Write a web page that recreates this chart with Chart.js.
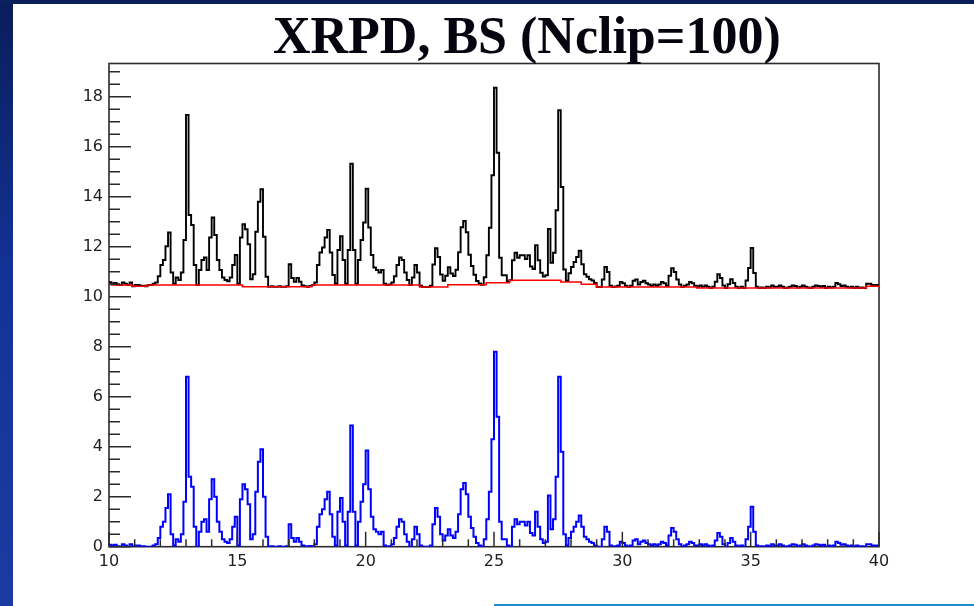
<!DOCTYPE html>
<html>
<head>
<meta charset="utf-8">
<script src="https://cdn.jsdelivr.net/npm/chart.js@4"></script>
<style>
  html, body { margin: 0; padding: 0; background: #fff; }
  #page { position: relative; width: 974px; height: 606px; overflow: hidden; background: #fff; }
  #sideBar { position: absolute; left: 0; top: 0; width: 13px; height: 606px;
             background: linear-gradient(to bottom, #0a1d5a 0%, #123296 45%, #1a3ca2 100%); }
  #topBar { position: absolute; left: 0; top: 0; width: 974px; height: 4px; background: #0b1f5c; }
  #footLine { position: absolute; left: 494px; top: 604px; width: 480px; height: 2px; background: #1f8fc4; }
  #title { position: absolute; left: 273px; top: 9.5px; margin: 0; white-space: nowrap;
           font: bold 52px/52px "Liberation Serif", "Times New Roman", serif; color: #05050f; z-index: 2; }
  #chart { position: absolute; left: 0; top: 0; }
</style>
</head>
<body>
<div id="page">
  <canvas id="chart" width="974" height="606"></canvas>
  <div id="sideBar"></div>
  <div id="topBar"></div>
  <div id="footLine"></div>
  <h1 id="title">XRPD, BS (Nclip=100)</h1>
</div>
<script>
// 2-theta binning of the diffraction pattern
const binStart = 10;
const binWidth = 0.1;
const xMin = 10, xMax = 40;
const yMin = 0, yMax = 19.33;

// Axis labels and minor tick spacing
const xTickValues = [10, 15, 20, 25, 30, 35, 40];
const yTickValues = [0, 2, 4, 6, 8, 10, 12, 14, 16, 18];
const xMinorStep = 1;
const yMinorStep = 0.5;

// Background-subtracted intensity, one row per degree (bins of 0.1)
const signal = [
  0.08, 0.05, 0.08, 0.02, 0,    0.1,  0.05, 0,    0.1,  0,     // 10
  0.05, 0.05, 0.02, 0.02, 0,    0,    0,    0.05, 0.1,  0.35,  // 11
  0.8,  1.0,  1.55, 2.1,  0.5,  0.05, 0.3,  0.2,  0.5,  1.8,   // 12
  6.8,  2.8,  2.4,  0.8,  0,    0.6,  1.0,  1.1,  0.6,  1.9,   // 13
  2.7,  2.0,  1.0,  0.6,  0.3,  0.2,  0.15, 0.3,  0.8,  1.2,   // 14
  0.05, 1.9,  2.5,  2.3,  1.7,  0.3,  0.5,  2.2,  3.4,  3.9,   // 15
  2.0,  0.4,  0,    0.02, 0,    0,    0.02, 0,    0,    0.02,  // 16
  0.9,  0.35, 0.2,  0.35, 0.2,  0.05, 0.02, 0,    0.03, 0,     // 17
  0.1,  0.8,  1.3,  1.5,  1.9,  2.2,  1.3,  0.4,  0.05, 1.4,   // 18
  1.95, 1.0,  0.05, 1.4,  4.85, 1.4,  0.05, 1.0,  1.8,  2.5,   // 19
  3.85, 2.3,  1.2,  0.7,  0.6,  0.5,  0.6,  0.05, 0,    0.02,  // 20
  0.1,  0.35, 0.8,  1.1,  1.0,  0.5,  0.2,  0,    0.3,  0.8,   // 21
  0.5,  0.05, 0,    0,    0,    0.05, 0.9,  1.55, 1.2,  0.5,   // 22
  0.25, 0.45, 0.7,  0.45, 0.35, 0.6,  1.3,  2.3,  2.55, 2.1,   // 23
  1.2,  0.75, 0.4,  0.15, 0.05, 0,    0.3,  1.1,  2.2,  4.3,   // 24
  7.8,  5.2,  1.0,  0.3,  0.3,  0.05, 0,    0.8,  1.1,  0.9,   // 25
  1.0,  1.0,  0.85, 1.0,  0.55, 0.45, 1.4,  0.8,  0.3,  0.15,  // 26
  0.2,  2.05, 0.7,  1.1,  2.8,  6.8,  3.8,  0.5,  0.05, 0.35,  // 27
  0.6,  0.8,  1.0,  1.25, 0.8,  0.4,  0.3,  0.2,  0.15, 0.05,  // 28
  0,    0,    0.3,  0.8,  0.6,  0.05, 0,    0.02, 0.05, 0.2,   // 29
  0.15, 0.05, 0,    0.05, 0.25, 0.3,  0.1,  0.2,  0.25, 0.15,  // 30
  0.1,  0.05, 0.1,  0.05, 0.1,  0.2,  0.15, 0.05, 0.45, 0.75,  // 31
  0.6,  0.3,  0.1,  0,    0.05, 0.1,  0.2,  0.15, 0.05, 0.05,  // 32
  0.1,  0.05, 0.1,  0.05, 0,    0.05, 0.25, 0.55, 0.4,  0.1,   // 33
  0,    0.15, 0.35, 0.2,  0.05, 0,    0.05, 0,    0.3,  0.8,   // 34
  1.6,  0.6,  0.05, 0,    0.02, 0,    0.05, 0.02, 0.1,  0.05,  // 35
  0.05, 0.1,  0.05, 0,    0.02, 0.05, 0.1,  0.08, 0.02, 0.05,  // 36
  0.1,  0.05, 0.02, 0,    0.05, 0.1,  0.08, 0.05, 0.08, 0,     // 37
  0.05, 0.02, 0.05, 0.2,  0.15, 0.08, 0.1,  0.05, 0.02, 0.05,  // 38
  0,    0.05, 0,    0.02, 0,    0.1,  0.1,  0.05, 0.05, 0.05   // 39
];

// Estimated background (clipping window 100): step edges and levels
const bgEdges  = [10.0, 10.1, 10.9, 11.5, 15.2, 17.9, 22.1, 23.2, 24.7, 25.6, 27.6, 28.4, 29.0, 32.9, 39.5, 40.0];
const bgLevels = [10.50, 10.47, 10.42, 10.47, 10.40, 10.47, 10.39, 10.48, 10.56, 10.66, 10.59, 10.50, 10.39, 10.35, 10.42];

function binEdge(i) { return Math.round((binStart + i * binWidth) * 1000) / 1000; }
function backgroundAt(x) {
  for (let k = 0; k < bgLevels.length; k++) {
    if (x >= bgEdges[k] - 1e-9 && x < bgEdges[k + 1] - 1e-9) return bgLevels[k];
  }
  return bgLevels[bgLevels.length - 1];
}

// Histogram outlines: each point holds its value up to the next bin edge
const signalPoints = signal.map((v, i) => ({ x: binEdge(i), y: v }));
signalPoints.push({ x: xMax, y: signal[signal.length - 1] });

const rawPoints = signal.map((v, i) => ({ x: binEdge(i), y: backgroundAt(binEdge(i)) + v }));
rawPoints.push({ x: xMax, y: rawPoints[rawPoints.length - 1].y });

const bgPoints = bgEdges.map((e, k) => ({ x: e, y: bgLevels[Math.min(k, bgLevels.length - 1)] }));

// Frame and inward ROOT-style tick marks
const frameAndTicks = {
  id: 'frameAndTicks',
  beforeDatasetsDraw(chart) {
    const { ctx, chartArea: a } = chart;
    ctx.save();
    ctx.strokeStyle = '#2b2b2b';
    ctx.lineWidth = 1.6;
    ctx.strokeRect(a.left, a.top, a.right - a.left, a.bottom - a.top);
    ctx.restore();
  },
  afterDatasetsDraw(chart) {
    const { ctx, chartArea: a, scales: { x, y } } = chart;
    ctx.save();
    ctx.strokeStyle = '#2b2b2b';
    ctx.lineWidth = 1.5;
    ctx.beginPath();
    for (let k = 0; k * yMinorStep <= yMax + 1e-9; k++) {
      const v = k * yMinorStep;
      const py = y.getPixelForValue(v);
      const len = (Math.abs(v % 2) < 1e-9) ? 22 : 11;
      ctx.moveTo(a.left, py);
      ctx.lineTo(a.left + len, py);
    }
    for (let k = 0; xMin + k * xMinorStep <= xMax + 1e-9; k++) {
      const v = xMin + k * xMinorStep;
      const px = x.getPixelForValue(v);
      const len = (v % 5 === 0) ? 15 : 7.5;
      ctx.moveTo(px, a.bottom);
      ctx.lineTo(px, a.bottom - len);
    }
    ctx.stroke();
    ctx.restore();
  }
};

const tickFont = { family: '"DejaVu Sans", "Liberation Sans", Arial, sans-serif', size: 16 };

new Chart(document.getElementById('chart'), {
  type: 'line',
  data: {
    datasets: [
      { label: 'background', data: bgPoints, borderColor: '#ff0000', borderWidth: 1.6,
        stepped: true, pointRadius: 0, fill: false, order: 0 },
      { label: 'raw', data: rawPoints, borderColor: '#000000', borderWidth: 1.9,
        stepped: true, pointRadius: 0, fill: false, order: 1 },
      { label: 'signal', data: signalPoints, borderColor: '#0000ff', borderWidth: 2,
        stepped: true, pointRadius: 0, fill: false, order: 2 }
    ]
  },
  options: {
    responsive: false,
    devicePixelRatio: 1,
    animation: false,
    events: [],
    layout: { padding: { left: 0, top: 63.5, right: 95, bottom: 0 } },
    plugins: { legend: { display: false }, tooltip: { enabled: false }, title: { display: false } },
    scales: {
      x: {
        type: 'linear', min: xMin, max: xMax,
        grid: { display: false, drawTicks: false },
        border: { display: false },
        ticks: { font: tickFont, color: '#1e1e1e', padding: 6, maxRotation: 0, includeBounds: false },
        afterBuildTicks: s => { s.ticks = xTickValues.map(v => ({ value: v })); },
        afterFit: s => { s.height = 606 - 546.7; }
      },
      y: {
        type: 'linear', min: yMin, max: yMax,
        grid: { display: false, drawTicks: false },
        border: { display: false },
        ticks: { font: tickFont, color: '#1e1e1e', padding: 6, includeBounds: false },
        afterBuildTicks: s => { s.ticks = yTickValues.map(v => ({ value: v })); },
        afterFit: s => { s.width = 109; }
      }
    }
  },
  plugins: [frameAndTicks]
});
</script>
</body>
</html>
